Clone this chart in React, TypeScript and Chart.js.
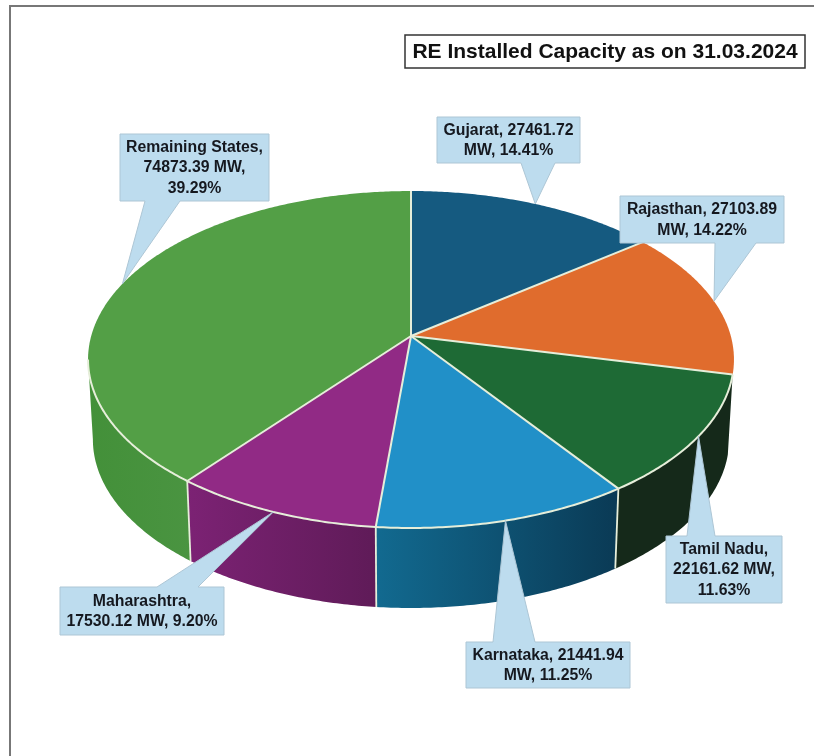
import React, { useEffect, useRef } from "react";
import { Chart, registerables } from "chart.js";

Chart.register(...registerables);

// Installed capacity by state, in MW
const states = ["Gujarat", "Rajasthan", "Tamil Nadu", "Karnataka", "Maharashtra", "Remaining States"];
const capacityMw = [27461.72, 27103.89, 22161.62, 21441.94, 17530.12, 74873.39];
const shareLabels = ["14.41%", "14.22%", "11.63%", "11.25%", "9.20%", "39.29%"];
const calloutLines = [
  ["Gujarat, 27461.72", "MW, 14.41%"],
  ["Rajasthan, 27103.89", "MW, 14.22%"],
  ["Tamil Nadu,", "22161.62 MW,", "11.63%"],
  ["Karnataka, 21441.94", "MW, 11.25%"],
  ["Maharashtra,", "17530.12 MW, 9.20%"],
  ["Remaining States,", "74873.39 MW,", "39.29%"],
];
const chartTitle = "RE Installed Capacity as on 31.03.2024";

const topColors = ["#155a80", "#e06c2d", "#1e6a35", "#2190c8", "#912a85", "#539f46"];
const wallColors = [
  ["#155a80", "#155a80"],
  ["#e06c2d", "#e06c2d"],
  ["#15291a", "#15291a"],
  ["#126a90", "#0a3a55"],
  ["#7c2274", "#5f1b58"],
  ["#439039", "#4a9441"],
];

// Callout boxes: left, top, right, bottom, then the two feet of the pointer
const calloutBoxes = [
  [437, 117, 580, 163, 521, 555],
  [620, 196, 784, 243, 715, 756],
  [666, 536, 782, 603, 687, 715],
  [466, 642, 630, 688, 493, 535],
  [60, 587, 224, 635, 157, 198],
  [120, 134, 269, 201, 145, 180],
];

// Perspective projection of the pie's top face
const APEX_X = 411;
const APEX_Y = 336;
const SCALE_X = 319.8;
const SCALE_Y = 165.2;
const TILT = 0.1395;
const WALL_SCALE = 0.985;
const WALL_DROP = 80;
const FRONT_FROM = (98 * Math.PI) / 180;
const FRONT_TO = (262 * Math.PI) / 180;
const MIN_WALL = (8 * Math.PI) / 180;
const RIM_COLOR = "#e6eeda";

type Pt = { x: number; y: number };

// theta is measured clockwise from twelve o'clock
function rimPoint(theta: number): Pt {
  const u = Math.sin(theta);
  const v = -Math.cos(theta);
  const w = 1 - TILT * v;
  return { x: APEX_X + (SCALE_X * u) / w, y: APEX_Y + (SCALE_Y * v) / w };
}

function lowerPoint(theta: number): Pt {
  const p = rimPoint(theta);
  return { x: APEX_X + (p.x - APEX_X) * WALL_SCALE, y: p.y + WALL_DROP };
}

function sweep(a: number, b: number): number[] {
  const n = Math.max(2, Math.ceil(Math.abs(b - a) / 0.01));
  const out: number[] = [];
  for (let i = 0; i <= n; i++) out.push(a + ((b - a) * i) / n);
  return out;
}

function sliceAngles(chart: Chart) {
  return chart.getDatasetMeta(0).data.map((el: any) => {
    const { startAngle, endAngle } = el.getProps(["startAngle", "endAngle"], true);
    return { a: startAngle + Math.PI / 2, b: endAngle + Math.PI / 2 };
  });
}

const pie3dPlugin = {
  id: "pie3d",
  beforeDatasetDraw(chart: Chart) {
    const ctx = chart.ctx;
    const slices = sliceAngles(chart);
    ctx.save();
    ctx.lineJoin = "round";

    // Side walls of the slices that face the viewer
    const visible = slices.map(({ a, b }) => {
      const from = Math.max(a, FRONT_FROM);
      const to = Math.min(b, FRONT_TO);
      return to - from > MIN_WALL ? { from, to } : null;
    });
    visible.forEach((range, i) => {
      if (!range) return;
      const upper = sweep(range.from, range.to).map(rimPoint);
      const lower = sweep(range.to, range.from).map(lowerPoint);
      const outline = [...upper, ...lower];
      const xs = outline.map((p) => p.x);
      const grad = ctx.createLinearGradient(Math.min(...xs), 0, Math.max(...xs), 0);
      grad.addColorStop(0, wallColors[i][0]);
      grad.addColorStop(1, wallColors[i][1]);
      ctx.beginPath();
      outline.forEach((p, k) => (k ? ctx.lineTo(p.x, p.y) : ctx.moveTo(p.x, p.y)));
      ctx.closePath();
      ctx.fillStyle = grad;
      ctx.fill();
    });

    // Vertical seams where two visible walls meet
    ctx.strokeStyle = RIM_COLOR;
    ctx.lineWidth = 1.8;
    visible.forEach((range, i) => {
      if (!range || range.to >= FRONT_TO || !visible[(i + 1) % visible.length]) return;
      const top = rimPoint(range.to);
      const bottom = lowerPoint(range.to);
      ctx.beginPath();
      ctx.moveTo(top.x, top.y);
      ctx.lineTo(bottom.x, bottom.y);
      ctx.stroke();
    });

    // Top face
    slices.forEach(({ a, b }, i) => {
      ctx.beginPath();
      ctx.moveTo(APEX_X, APEX_Y);
      sweep(a, b).map(rimPoint).forEach((p) => ctx.lineTo(p.x, p.y));
      ctx.closePath();
      ctx.fillStyle = topColors[i];
      ctx.fill();
    });

    // Spokes and the front rim
    ctx.lineWidth = 2;
    slices.forEach(({ a }) => {
      const p = rimPoint(a);
      ctx.beginPath();
      ctx.moveTo(APEX_X, APEX_Y);
      ctx.lineTo(p.x, p.y);
      ctx.stroke();
    });
    visible.forEach((range) => {
      if (!range) return;
      ctx.beginPath();
      sweep(range.from, range.to).map(rimPoint).forEach((p, k) => (k ? ctx.lineTo(p.x, p.y) : ctx.moveTo(p.x, p.y)));
      ctx.stroke();
    });
    ctx.restore();
    return false;
  },
  afterDraw(chart: Chart) {
    const ctx = chart.ctx;
    const slices = sliceAngles(chart);
    ctx.save();

    // Page frame
    ctx.strokeStyle = "#777777";
    ctx.lineWidth = 2;
    ctx.beginPath();
    ctx.moveTo(10, 756);
    ctx.lineTo(10, 6);
    ctx.lineTo(814, 6);
    ctx.stroke();

    // Callouts point at the middle of each slice's rim
    slices.forEach(({ a, b }, i) => {
      const [l, t, r, btm, f1, f2] = calloutBoxes[i];
      const tip = rimPoint((a + b) / 2);
      const tipAbove = tip.y < t;
      ctx.beginPath();
      ctx.moveTo(l, t);
      if (tipAbove) {
        ctx.lineTo(f1, t);
        ctx.lineTo(tip.x, tip.y);
        ctx.lineTo(f2, t);
      }
      ctx.lineTo(r, t);
      ctx.lineTo(r, btm);
      if (!tipAbove) {
        ctx.lineTo(f2, btm);
        ctx.lineTo(tip.x, tip.y);
        ctx.lineTo(f1, btm);
      }
      ctx.lineTo(l, btm);
      ctx.closePath();
      ctx.fillStyle = "#bddcee";
      ctx.fill();
      ctx.strokeStyle = "#adc6d5";
      ctx.lineWidth = 1;
      ctx.stroke();

      const lines = calloutLines[i];
      const spacing = 20.5;
      const cy = (t + btm) / 2 + 0.5;
      ctx.fillStyle = "#15181f";
      ctx.font = 'bold 15.8px "Liberation Sans", Arial, sans-serif';
      ctx.textAlign = "center";
      ctx.textBaseline = "middle";
      lines.forEach((line, k) => {
        ctx.fillText(line, (l + r) / 2, cy + (k - (lines.length - 1) / 2) * spacing);
      });
    });

    // Boxed title
    ctx.fillStyle = "#ffffff";
    ctx.fillRect(405, 35, 400, 33);
    ctx.strokeStyle = "#333333";
    ctx.lineWidth = 1.5;
    ctx.strokeRect(405, 35, 400, 33);
    ctx.fillStyle = "#111111";
    ctx.font = 'bold 21px "Liberation Sans", Arial, sans-serif';
    ctx.textAlign = "center";
    ctx.textBaseline = "middle";
    ctx.fillText(chartTitle, 605, 52);
    ctx.restore();
  },
};

export default function App() {
  const canvasRef = useRef<HTMLCanvasElement | null>(null);

  useEffect(() => {
    const canvas = canvasRef.current;
    if (!canvas) return;
    const chart = new Chart(canvas, {
      type: "pie",
      data: {
        labels: states,
        datasets: [{ data: capacityMw, backgroundColor: topColors, borderWidth: 0 }],
      },
      options: {
        responsive: false,
        animation: false,
        rotation: 0,
        plugins: {
          legend: { display: false },
          tooltip: {
            callbacks: {
              label: (item: any) => `${item.formattedValue} MW, ${shareLabels[item.dataIndex]}`,
            },
          },
        },
      },
      plugins: [pie3dPlugin],
    } as any);
    return () => chart.destroy();
  }, []);

  return (
    <canvas
      ref={canvasRef}
      width={814}
      height={756}
      style={{ position: "absolute", left: 0, top: 0, width: 814, height: 756, background: "#ffffff" }}
    />
  );
}
